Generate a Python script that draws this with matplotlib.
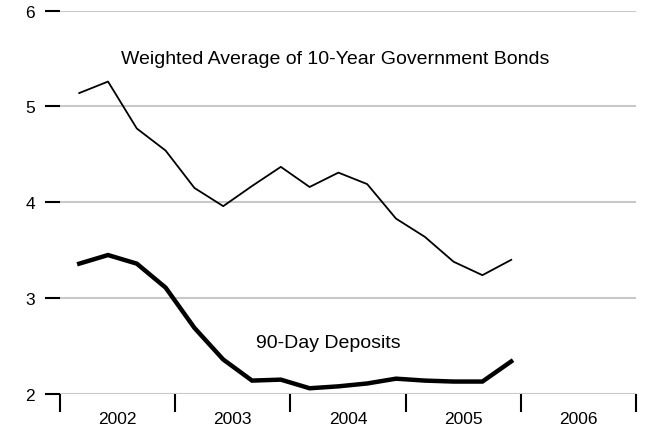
import numpy as np
import matplotlib.pyplot as plt

plt.rcParams['font.family'] = ['Liberation Sans', 'DejaVu Sans']

years = [2002, 2003, 2004, 2005]
quarters = [1, 2, 3, 4]
bonds = [5.14, 5.26, 4.77, 4.54, 4.15, 3.96, 4.17, 4.37,
         4.16, 4.31, 4.19, 3.83, 3.64, 3.38, 3.24, 3.40]
deposits = [3.36, 3.45, 3.36, 3.11, 2.69, 2.36, 2.14, 2.15,
            2.06, 2.08, 2.11, 2.16, 2.14, 2.13, 2.13, 2.34]
year_labels = ['2002', '2003', '2004', '2005', '2006']

# quarterly points placed roughly at mid-quarter
x = np.array([y + (q - 1) / 4 + 0.167 for y in years for q in quarters])

fig = plt.figure(figsize=(6.45, 4.31), dpi=100)
ax = fig.add_axes([0.093, 0.0835, 0.893, 0.8895])

for v in [2, 3, 4, 5, 6]:
    ax.axhline(v, color='#c8c8c8', lw=1.5, zorder=1)

ax.plot(x, bonds, color='black', lw=1.3, zorder=3)
ax.plot(x, deposits, color='black', lw=3.2, zorder=3, solid_joinstyle='miter')

ax.text(2004.385, 5.50, 'Weighted Average of 10-Year Government Bonds',
        ha='center', va='center', fontsize=14)
ax.text(2004.33, 2.54, '90-Day Deposits', ha='center', va='center', fontsize=14)

ax.set_xlim(2002, 2007)
ax.set_ylim(2, 6)
for s in ax.spines.values():
    s.set_visible(False)

ax.set_yticks([2, 3, 4, 5, 6])
ax.set_yticklabels(['2', '3', '4', '5', '6'])
ax.tick_params(axis='y', length=11, width=1.5, pad=7, labelsize=12.5)

ax.set_xticks([2002, 2003, 2004, 2005, 2006, 2007])
ax.set_xticklabels([])
ax.set_xticks([2002.5, 2003.5, 2004.5, 2005.5, 2006.5], minor=True)
ax.set_xticklabels(year_labels, minor=True)
ax.tick_params(axis='x', which='major', length=13, width=1.5)
ax.tick_params(axis='x', which='minor', length=0, pad=12, labelsize=12.5)

fig.savefig('out.png', dpi=100)
